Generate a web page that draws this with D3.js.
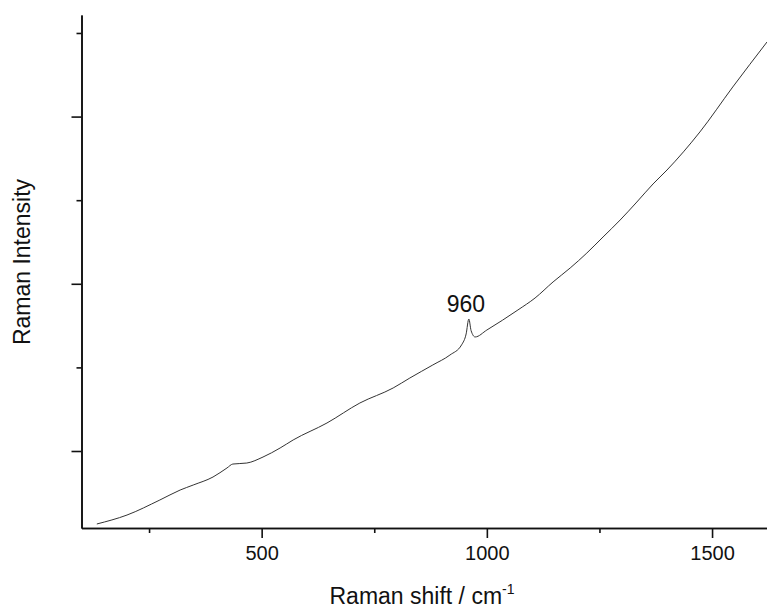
<!DOCTYPE html>
<html>
<head>
<meta charset="utf-8">
<script src="https://cdn.jsdelivr.net/npm/d3@7"></script>
<style>
  body { margin: 0; background: #fff; }
  svg { display: block; font-family: "Liberation Sans", Arial, sans-serif; }
  .axe path, .axe line { stroke: #111; stroke-width: 1.6; }
  .axe text { fill: #111; font-size: 20px; }
</style>
</head>
<body>
<div id="graph"></div>
<script>
// spectre (nombre d'onde en cm-1, intensite en unites arbitraires)
var nombreOnde = [134, 201, 274, 319, 348, 392, 423, 436, 467, 503, 541, 570, 645, 718, 792, 829, 880, 918, 944, 954, 960, 965, 974, 1000, 1069, 1107, 1147, 1185, 1222, 1258, 1296, 1333, 1369, 1400, 1473, 1546, 1622];
var intensite = [127, 234, 414, 533, 593, 689, 797, 844, 856, 928, 1036, 1132, 1335, 1574, 1754, 1873, 2029, 2148, 2270, 2400, 2579, 2440, 2364, 2447, 2687, 2830, 3022, 3189, 3368, 3560, 3763, 3978, 4194, 4361, 4816, 5354, 5892];

var ticksXMajeurs = [500, 1000, 1500];
var ticksXMineurs = [250, 750, 1250];
var ticksYMajeurs = [1000, 3000, 5000];
var ticksYMineurs = [2000, 4000, 6000];

var pic = { x: 960, y: 2579, texte: "960" };

var width = 767, height = 608;

var svg = d3.select("#graph").append("svg")
    .attr("width", width)
    .attr("height", height);

var x = d3.scaleLinear().domain([100, 1622]).range([81.5, 767]);
var y = d3.scaleLinear().domain([79, 6215]).range([528, 15]);

// axe X : graduations mineures puis majeures avec libelles
svg.append("g")
    .attr("class", "axe")
    .attr("transform", "translate(0,528)")
    .call(d3.axisBottom(x).tickValues(ticksXMineurs).tickSize(5).tickSizeOuter(0).tickFormat(""));

svg.append("g")
    .attr("class", "axe")
    .attr("transform", "translate(0,528)")
    .call(d3.axisBottom(x).tickValues(ticksXMajeurs).tickSize(10).tickSizeOuter(0).tickPadding(8).tickFormat(d3.format("d")));

// axe Y sans libelles
svg.append("g")
    .attr("class", "axe")
    .attr("transform", "translate(81.5,0)")
    .call(d3.axisLeft(y).tickValues(ticksYMineurs).tickSize(5).tickSizeOuter(0).tickFormat(""));

svg.append("g")
    .attr("class", "axe")
    .attr("transform", "translate(81.5,0)")
    .call(d3.axisLeft(y).tickValues(ticksYMajeurs).tickSize(10).tickSizeOuter(0).tickFormat(""));

var points = nombreOnde.map((d, i) => [d, intensite[i]]);

var ligne = d3.line()
    .x(d => x(d[0]))
    .y(d => y(d[1]))
    .curve(d3.curveMonotoneX);

svg.append("path")
    .datum(points)
    .attr("fill", "none")
    .attr("stroke", "#333")
    .attr("stroke-width", 1)
    .attr("d", ligne);

// annotation du pic
svg.append("text")
    .attr("x", x(pic.x) - 3)
    .attr("y", y(pic.y) - 7)
    .attr("text-anchor", "middle")
    .style("font-size", "23px")
    .attr("fill", "#111")
    .text(pic.texte);

// titres des axes
var titreX = svg.append("text")
    .attr("x", 422)
    .attr("y", 604)
    .attr("text-anchor", "middle")
    .style("font-size", "23px")
    .attr("fill", "#111");
titreX.append("tspan").text("Raman shift / cm");
titreX.append("tspan").attr("dy", -10).style("font-size", "14px").text("-1");

svg.append("text")
    .attr("transform", "translate(30,262) rotate(-90)")
    .attr("text-anchor", "middle")
    .style("font-size", "23px")
    .attr("fill", "#111")
    .text("Raman Intensity");
</script>
</body>
</html>
